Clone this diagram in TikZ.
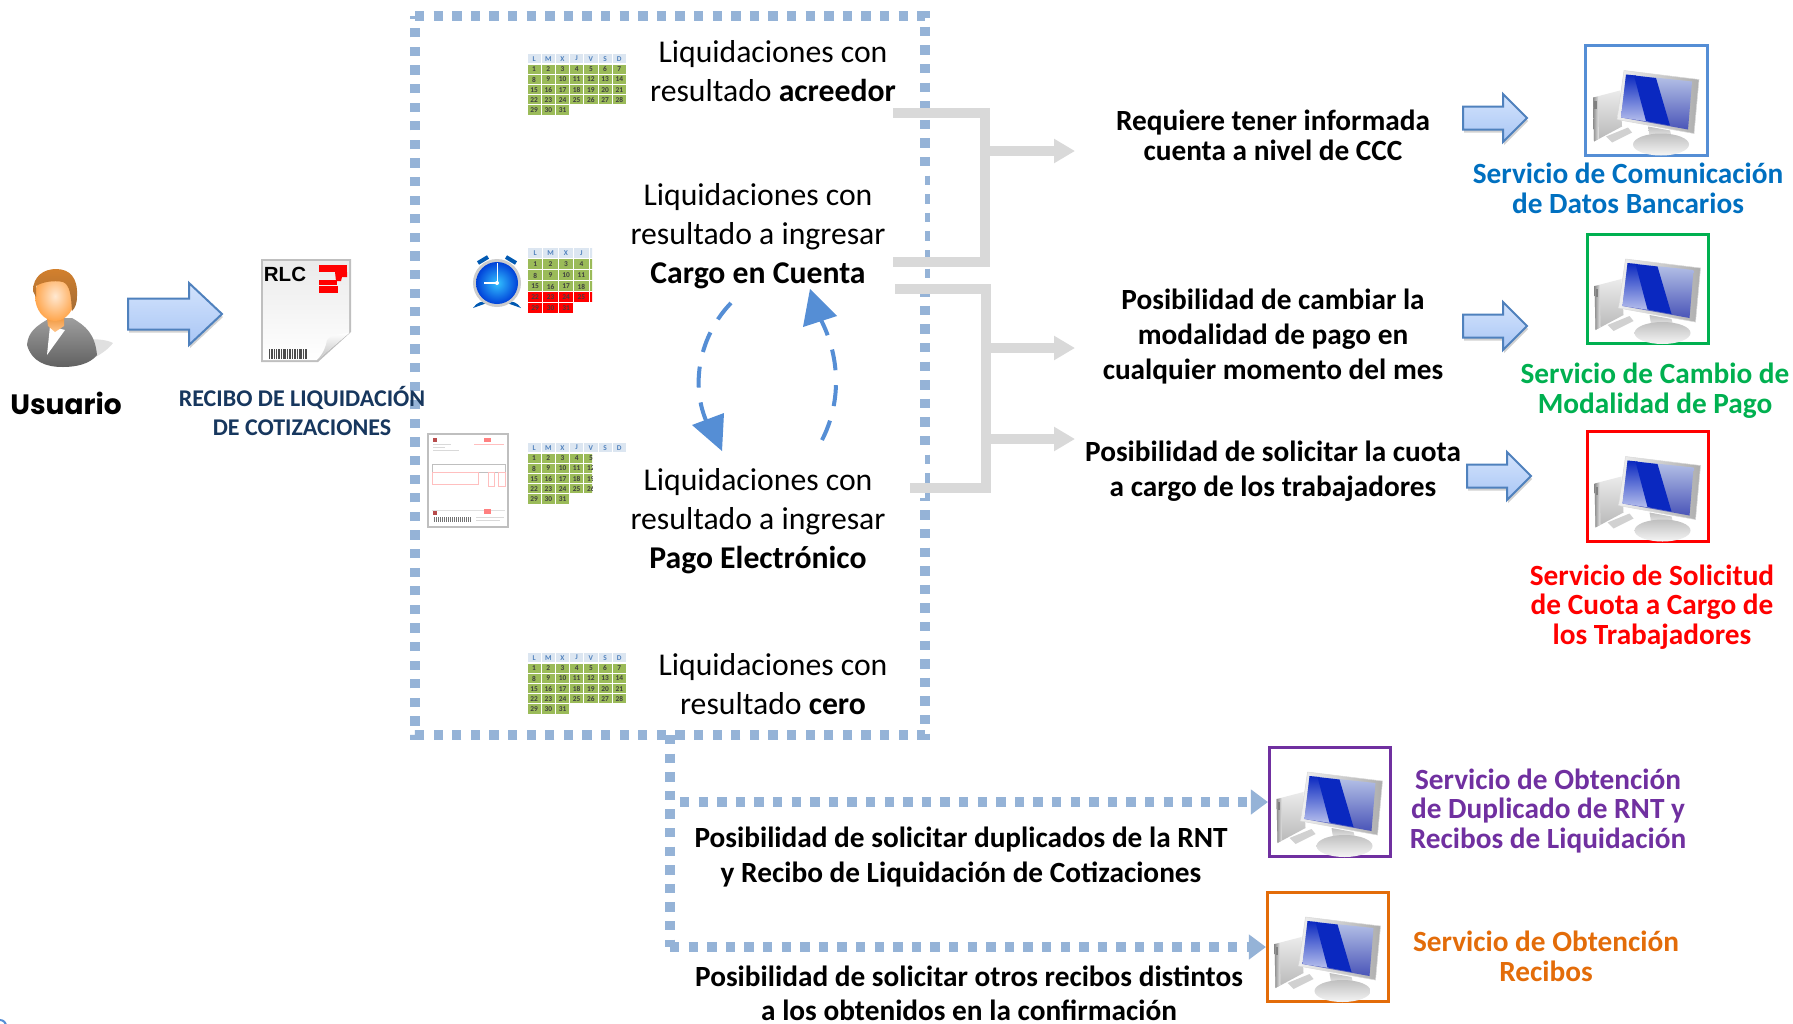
\documentclass[tikz,border=0pt]{standalone}
\usepackage{fontspec}
\setmainfont{Carlito}
\newfontfamily\usrfont{Poppins}
\newfontfamily\rlcfont{Liberation Sans}
\usetikzlibrary{arrows.meta,shadings}
\definecolor{dotblue}{HTML}{95B3D7}
\definecolor{conngray}{HTML}{D9D9D9}
\definecolor{cyclecol}{HTML}{558ED5}
\definecolor{calhead}{HTML}{DCE6F1}
\definecolor{calgreen}{HTML}{9BBB59}
\definecolor{arrowedge}{HTML}{4F81BD}
\definecolor{svcblue}{HTML}{0070C0}
\definecolor{svcgreen}{HTML}{00B050}
\definecolor{svcpurple}{HTML}{7030A0}
\definecolor{svcorange}{HTML}{E36C09}
\definecolor{labelnavy}{HTML}{17375E}
\definecolor{arrowtop}{HTML}{D3E3FC}
\definecolor{arrowbot}{HTML}{A9C6F5}
\definecolor{scrband}{HTML}{0A28C0}
\definecolor{scrlight}{HTML}{B8C4E8}
\definecolor{scrlow}{HTML}{4A55B8}
\tikzset{
  dotline/.style={draw=dotblue,line width=9.3pt,dash pattern=on 9.3pt off 9.3pt},
  grayline/.style={draw=conngray,line width=10pt,miter limit=10},
  grayarrow/.style={draw=conngray,line width=10pt,-{Triangle[length=21pt,width=23pt]}},
  cycleline/.style={draw=cyclecol,line width=4pt,dash pattern=on 21pt off 15pt},
  cyclehead/.style={fill=cyclecol},
  plain/.style={align=center,inner sep=0pt,text=black,font=\fontsize{31.7}{39}\selectfont},
  strong/.style={align=center,inner sep=0pt,text=black,font=\fontsize{29.3}{35}\selectfont\bfseries},
  strongtight/.style={align=center,inner sep=0pt,text=black,font=\fontsize{29.3}{30}\selectfont\bfseries},
  strongmid/.style={align=center,inner sep=0pt,text=black,font=\fontsize{29.3}{33.5}\selectfont\bfseries},
  svc/.style={align=center,inner sep=0pt,font=\fontsize{29.3}{29.7}\selectfont\bfseries},
  monbox/.style={draw=#1,line width=2.6pt,minimum width=121.5pt,minimum height=109.5pt,inner sep=0pt},
  caltxt/.style={inner sep=0pt,font=\fontsize{7.4}{7.5}\selectfont\bfseries}
}
% x y colwidth rowheight headerclipwidth cellclipwidth redfromday prefix
\newcommand\calgrid[8]{%
\begin{scope}[shift={(#1,#2)}]
  \begin{scope}
    \clip (0,0) rectangle (#5,12);
    \foreach \ci/\cl in {0/L,1/M,2/X,3/J,4/V,5/S,6/D}{
      \fill[calhead] ({\ci*#3+.5},0) rectangle ++({#3-1},{#4-1});
      \node[caltxt,text=arrowedge] (#8h\ci) at ({(\ci+.5)*#3},{(#4-1)/2}) {\cl};
    }
  \end{scope}
  \begin{scope}
    \clip (0,0) rectangle (#6,{#4*6+3});
    \foreach \cd in {1,...,31}{
      \pgfmathtruncatemacro\cc{mod(\cd-1,7)}
      \pgfmathtruncatemacro\cr{int((\cd-1)/7)}
      \ifnum\cd<#7\relax\def\cf{calgreen}\else\def\cf{red}\fi
      \fill[\cf] ({\cc*#3+.5},{(\cr+1)*#4+.4}) rectangle ++({#3-1},{#4-1});
      \node[caltxt,text=black!75] (#8d\cd) at ({(\cc+.5)*#3},{(\cr+1.5)*#4}) {\cd};
    }
  \end{scope}
\end{scope}}
% name centre colour
\newcommand\monitor[4]{%
\node[monbox=#4,fill=white] (#1) at (#2,#3) {};
\begin{scope}[shift={(#2-62.5,#3-56)}]
  \shade[top color=black!8,bottom color=black!28] (9,53) -- (36,46) -- (38,82) -- (10,97) -- cycle;
  \shade[left color=black!45,right color=black!8] (9,53) -- (14,52) -- (15,94) -- (10,97) -- cycle;
  \fill[black!50] (10,56) rectangle (12.5,64);
  \fill[black!18] (22,92) -- (44,83) -- (48,88) -- (28,98) -- cycle;
  \shade[top color=black!25,bottom color=black!6] (64,82) -- (86,86) -- (88,94) -- (66,94) -- cycle;
  \shade[top color=black!25,bottom color=black!4] (77,100) ellipse [x radius=28pt,y radius=11pt];
  \shade[left color=black!6,right color=black!32,draw=black!15,line width=.5pt] (40,26) -- (115,35) -- (110,89) -- (33,75) -- cycle;
  \shade[top color=scrlight,bottom color=scrlow] (42,30) -- (108,37) -- (104,85) -- (37,73) -- cycle;
  \shade[top color=scrband,bottom color=white!70!scrband] (42,30) -- (52,31) -- (64,77) -- (37,73) -- cycle;
  \fill[scrband] (50,31) -- (72,33.5) -- (86,81) -- (62,76.5) -- cycle;
\end{scope}}
% x1 ymid x2 headstart shafthalf headhalf
\newcommand\blockarrow[6]{%
\fill[black,opacity=.18] (#1+1,#2-#5+3) -- (#4+1,#2-#5+3) -- (#4+1,#2-#6+3) -- (#3+1,#2+3) -- (#4+1,#2+#6+3) -- (#4+1,#2+#5+3) -- (#1+1,#2+#5+3) -- cycle;
\path[top color=arrowtop,bottom color=arrowbot,draw=arrowedge,line width=2pt,line join=miter]
 (#1,#2-#5) -- (#4,#2-#5) -- (#4,#2-#6) -- (#3,#2) -- (#4,#2+#6) -- (#4,#2+#5) -- (#1,#2+#5) -- cycle;}
\begin{document}
\begin{tikzpicture}[x=1pt,y=-1pt]
\useasboundingbox (0,0) rectangle (1793,1023.5);
\fill[white] (0,0) rectangle (1793,1023.5);

% frame and connectors -------------------------------------------------
\coordinate (ftl) at (415,16);
\coordinate (ftr) at (925,16);
\coordinate (fbr) at (925,735);
\coordinate (fbl) at (415,735);
\draw[dotline] (ftl) -- (ftr) -- (fbr) -- (fbl) -- cycle;
\fill[white] (919,172) rectangle (925,278);
\fill[white] (919,453) rectangle (925,498);
\coordinate (stub) at (670,735);

% monitors
\monitor{mona}{1646.5}{100.5}{cyclecol}
\monitor{monb}{1648}{289}{svcgreen}
\monitor{monc}{1648}{486.5}{red}
\monitor{mond}{1330}{802}{svcpurple}
\monitor{mone}{1328}{947}{svcorange}

\coordinate (stubd) at (680,802);
\coordinate (stube) at (670,947);
\draw[dotline] (stub) -- (stube);
\draw[dotline,-{Triangle[length=17pt,width=24pt]}] (stubd) -- (mond.west);
\draw[dotline,-{Triangle[length=17pt,width=24pt]}] (stube) -- (mone.west);

% gray connectors
\coordinate (ga) at (893,113);
\coordinate (gb) at (893,262);
\coordinate (gc) at (895,289);
\coordinate (gd) at (910,488);
\coordinate (gaj) at (985,151);
\coordinate (gbj) at (986,348);
\coordinate (gcj) at (986,439);
\coordinate (gat) at (1075,151);
\coordinate (gbt) at (1075,348);
\coordinate (gct) at (1075,439);
\draw[grayline] (ga) -- (ga -| gaj) -- (gb -| gaj) -- (gb);
\draw[grayline] (gc) -- (gc -| gbj) -- (gd -| gbj) -- (gd);
\draw[grayarrow] (gaj) -- (gat);
\draw[grayarrow] (gbj) -- (gbt);
\draw[grayarrow] (gcj) -- (gct);

% user ---------------------------------------------------------------
\fill[black,opacity=.12] (80,340) .. controls (95,338) and (108,340) .. (113,343) .. controls (108,350) and (98,356) .. (90,360) -- cycle;
\shade[top color=black!38,bottom color=black!62] (27,345) .. controls (28,332) and (36,326) .. (50,318) -- (72,318) .. controls (86,326) and (95,334) .. (97,355) .. controls (90,364) and (76,367) .. (63,367) .. controls (46,367) and (32,362) .. (27,345) -- cycle;
\fill[white] (50,326) -- (65,330) -- (47,355) -- cycle;
\shade[top color=orange!65!brown,bottom color=orange!45!white] (46,310) -- (64,312) -- (64,326) -- (55,332) -- (48,326) -- cycle;
\shade[inner color=orange!18!white,outer color=orange!70!white] (55,296) ellipse [x radius=20pt,y radius=25pt];
\shade[top color=brown!70!orange,bottom color=brown!85!black] (33,291) .. controls (33,276) and (44,269) .. (56,269) .. controls (70,269) and (78,278) .. (77,296) .. controls (77,304) and (75,308) .. (72,311) .. controls (71,295) and (70,285) .. (63,282) .. controls (54,280) and (42,282) .. (36,286) -- (36,297) -- cycle;
\node[inner sep=0pt,font=\usrfont\fontsize{28}{30}\selectfont\bfseries] (usuario) at (66,403.5) {Usuario};
\blockarrow{128}{314}{222}{189}{15.5}{31}

% RLC document ---------------------------------------------------------
\fill[black,opacity=.25] (261,259) -- (351,259) -- (351,332) -- (318,362) -- (261,362) -- cycle;
\shade[top color=black!8,bottom color=white] (263,261) -- (349,261) -- (349,333) -- (317,360) -- (263,360) -- cycle;
\shade[top color=white,bottom color=black!25] (349,333) .. controls (338,334) and (329,336) .. (327,340) .. controls (326,346) and (324,353) .. (317,360) -- cycle;
\node[inner sep=0pt,font=\rlcfont\fontsize{20.5}{22}\selectfont\bfseries] (rlc) at (285,274) {RLC};
\fill[red] (319,265) rectangle (347,272);
\fill[red] (335,272) -- (347,272) -- (347,277) -- (342,277) -- (341,281) -- (336,281) -- cycle;
\fill[red] (319,280) rectangle (337,285);
\fill[red] (319,286) rectangle (338,293);
\foreach \bx/\bw in {269/1,271/2,274/1,276/1,278/2,281/1,283/3,287/1,289/2,292/1,294/2,297/1,299/3,303/1,305/2}{
  \fill[black!70] (\bx,349) rectangle ++(\bw,10);
}
\node[align=center,inner sep=0pt,text=labelnavy,font=\fontsize{24}{28.6}\selectfont\bfseries] (rlclabel) at (302,411) {RECIBO DE LIQUIDACIÓN\\DE COTIZACIONES};

% calendars
\calgrid{527}{54}{14.2}{10.2}{99.4}{99.4}{99}{ca}
\calgrid{527.5}{248}{15.4}{11}{64.5}{64.5}{22}{cb}
\calgrid{527}{443}{14.2}{10.2}{99.4}{65}{99}{cc}
\calgrid{527}{653}{14.2}{10.2}{99.4}{99.4}{99}{cd}

% clock
\draw[blue!50!cyan!70!black,line width=4pt] (478,263) -- (488,257);
\draw[blue!50!cyan!70!black,line width=4pt] (506,257) -- (516,263);
\fill[blue!50!cyan!70!black] (473,308) .. controls (477,302) and (483,300) .. (487,303) -- cycle;
\fill[blue!50!cyan!70!black] (521,308) .. controls (517,302) and (511,300) .. (507,303) -- cycle;
\fill[black!20] (497,283) circle [radius=24pt];
\shade[inner color=cyan!70!blue!80!white,outer color=blue!70!cyan!85!black] (497,283) circle [radius=21pt];
\draw[white,line width=1pt] (497,283) -- (497,263);
\draw[white,line width=1.5pt] (497,283) -- (484,283);
\fill[white] (497,283) circle [radius=2pt];

% payment slip thumbnail
\draw[black!25,line width=2.5pt,fill=white] (428,434) rectangle (508,527);
\fill[red!60!black!70] (433,438) rectangle (437,442);
\fill[red!50] (484,438) rectangle (491,442);
\foreach \ty/\tw in {444/18,447/12,450/26}{\fill[black!15] (433,\ty) rectangle ++(\tw,1);}
\fill[red!25] (474,444) rectangle (504,445);
\draw[black!25,line width=.5pt] (432,464) rectangle (505,472);
\draw[red!25,line width=.6pt] (432,472) rectangle (478,484);
\draw[red!25,line width=.6pt] (488,472) rectangle (494,486);
\draw[red!25,line width=.6pt] (498,472) rectangle (505,486);
\fill[black!12] (432,510) rectangle (505,511);
\fill[red!60!black!70] (433,511) rectangle (437,515);
\fill[red!50] (484,509) rectangle (491,514);
\foreach \qx in {434,436,...,470}{\fill[black!55] (\qx,517) rectangle ++(1.2,5);}
\fill[black!15] (476,517) rectangle (504,518);
\fill[black!15] (476,520) rectangle (500,521);

% texts in the frame ----------------------------------------------------
\node[plain] (ta) at (773,71.5) {Liquidaciones con\\resultado \textbf{acreedor}};
\node[plain] (tb) at (758,236.5) {Liquidaciones con\\resultado a ingresar\\\textbf{Cargo en Cuenta}};
\node[plain] (tc) at (758,521.5) {Liquidaciones con\\resultado a ingresar\\\textbf{Pago Electrónico}};
\node[plain] (td) at (773,684.5) {Liquidaciones con\\resultado \textbf{cero}};

% cycle arrows
\coordinate (cla) at (731,303);
\coordinate (clb) at (708,425);
\coordinate (cra) at (822,440);
\coordinate (crb) at (820,318);
\draw[cycleline] (cla) .. controls (700,335) and (689,385) .. (clb);
\draw[cycleline] (cra) .. controls (840,405) and (842,360) .. (crb);
\fill[cyclehead] (724,413) -- (692,425) -- (722,451) -- cycle;
\fill[cyclehead] (810,289) -- (837,316) -- (803,327) -- cycle;

% right column --------------------------------------------------------
\node[strongtight] (ra) at (1273,135.5) {Requiere tener informada\\cuenta a nivel de CCC};
\node[strong] (rb) at (1273,337) {Posibilidad de cambiar la\\modalidad de pago en\\cualquier momento del mes};
\node[strong] (rc) at (1273,471.5) {Posibilidad de solicitar la cuota\\a cargo de los trabajadores};
\blockarrow{1463}{118}{1527}{1503}{11.5}{24}
\blockarrow{1463}{326}{1527}{1503}{11.5}{24}
\blockarrow{1467}{476}{1531}{1507}{11.5}{24}
\node[svc,text=svcblue] (sa) at (1628,188) {Servicio de Comunicación\\de Datos Bancarios};
\node[svc,text=svcgreen] (sb) at (1655,391) {Servicio de Cambio de\\Modalidad de Pago};
\node[svc,text=red] (sc) at (1652,607) {Servicio de Solicitud\\de Cuota a Cargo de\\los Trabajadores};
\node[svc,text=svcpurple] (sd) at (1548,811) {Servicio de Obtención\\de Duplicado de RNT y\\Recibos de Liquidación};
\node[svc,text=svcorange] (se) at (1546,956) {Servicio de Obtención\\Recibos};

\node[strong] (ba) at (961,857) {Posibilidad de solicitar duplicados de la RNT\\y Recibo de Liquidación de Cotizaciones};
\node[strongmid] (bb) at (969,993.5) {Posibilidad de solicitar otros recibos distintos\\a los obtenidos en la confirmación};

% corner mark
\begin{scope}
  \clip (0,1000) rectangle (10,1023.5);
  \draw[cyclecol,line width=2pt] (0,1026) circle [radius=6pt];
\end{scope}
\end{tikzpicture}
\end{document}
